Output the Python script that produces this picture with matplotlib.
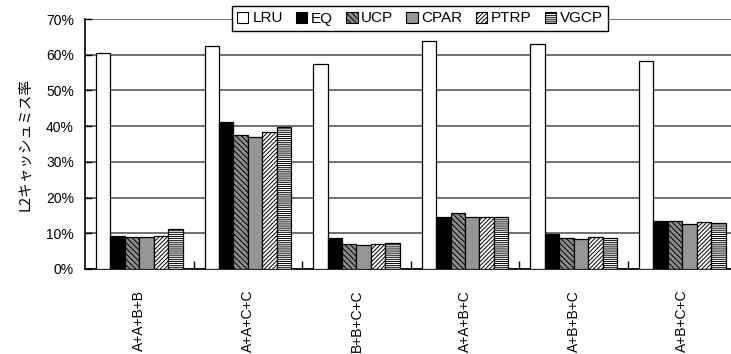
import numpy as np
import matplotlib.pyplot as plt
from matplotlib.patches import Patch

plt.rcParams['font.family'] = ['Liberation Sans', 'Noto Sans CJK JP', 'DejaVu Sans']
plt.rcParams['hatch.linewidth'] = 0.7

workloads = ['A+A+B+B', 'A+A+C+C', 'B+B+C+C', 'A+A+B+C', 'A+B+B+C', 'A+B+C+C']
policies = ['LRU', 'EQ', 'UCP', 'CPAR', 'PTRP', 'VGCP']

lru = [60.6, 62.5, 57.4, 63.9, 63.0, 58.3]
eq = [9.2, 41.2, 8.7, 14.7, 9.8, 13.5]
ucp = [9.1, 37.4, 7.0, 15.8, 8.6, 13.5]
cpar = [8.9, 37.1, 6.7, 14.5, 8.3, 12.6]
ptrp = [9.2, 38.3, 7.0, 14.5, 8.9, 13.2]
vgcp = [11.3, 39.7, 7.2, 14.7, 8.6, 12.8]
series = [lru, eq, ucp, cpar, ptrp, vgcp]

styles = [
    dict(facecolor='white', hatch=None),
    dict(facecolor='black', hatch=None),
    dict(facecolor='#8c8c8c', hatch='\\\\\\\\\\\\'),
    dict(facecolor='#969696', hatch=None),
    dict(facecolor='white', hatch='////////'),
    dict(facecolor='white', hatch='--------'),
]

fig = plt.figure(figsize=(7.31, 3.54), dpi=100)
ax = fig.add_axes([85 / 731, 1 - 269 / 354, 651.5 / 731, 250 / 354])

x = np.arange(len(workloads))
w = 0.133
for i, (vals, st) in enumerate(zip(series, styles)):
    ax.bar(x - 2.5 * w + i * w, vals, w, edgecolor='black', linewidth=0.9,
           zorder=3, **st)

ax.set_xlim(-0.5, len(workloads) - 0.5)
ax.set_ylim(0, 70)
ax.set_yticks(np.arange(0, 71, 10))
ax.set_yticklabels([f'{v}%' for v in range(0, 71, 10)], fontsize=10)
ax.yaxis.grid(True, color='#707070', linewidth=1.4, zorder=0)
ax.tick_params(axis='y', direction='in', length=5, width=1, pad=8)

ax.set_xticks(x)
ax.set_xticklabels(workloads, rotation=90, fontsize=10, va='top')
ax.set_xticks(np.arange(0.5, len(workloads) - 0.5, 1), minor=True)
ax.tick_params(axis='x', which='major', length=0, pad=15)
ax.tick_params(axis='x', which='minor', direction='in', length=6, width=1)

for s in ['top', 'right']:
    ax.spines[s].set_visible(False)
ax.spines['left'].set_linewidth(1.2)
ax.spines['bottom'].set_linewidth(1.2)

ax.set_ylabel('L2キャッシュミス率', fontsize=10.5, family=['Noto Sans CJK JP', 'DejaVu Sans'],
              labelpad=10)

handles = [Patch(edgecolor='black', linewidth=0.8, label=p, **st)
           for p, st in zip(policies, styles)]
leg = fig.legend(handles=handles, loc='center', ncol=6,
                 bbox_to_anchor=(420 / 731, 1 - 18.5 / 354), fontsize=11,
                 handlelength=0.75, handleheight=0.75, handletextpad=0.25,
                 columnspacing=0.85, borderpad=0.35, fancybox=False, framealpha=1)
leg.get_frame().set_edgecolor('black')
leg.get_frame().set_linewidth(1.0)

fig.savefig('out.png', dpi=100)
